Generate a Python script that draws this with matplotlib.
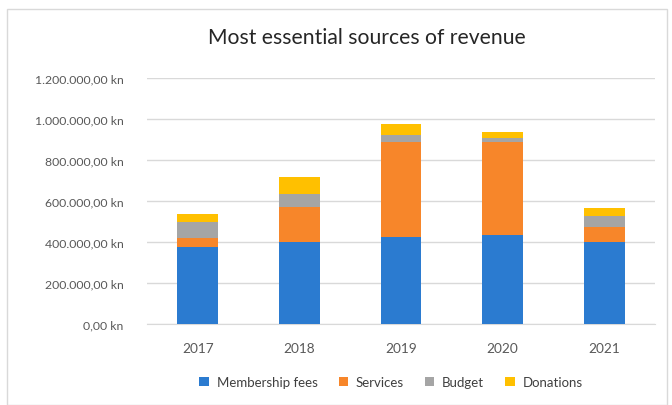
import matplotlib
matplotlib.use("Agg")
import matplotlib.pyplot as plt
from matplotlib.patches import Rectangle
from matplotlib.ticker import FuncFormatter

years = ["2017", "2018", "2019", "2020", "2021"]
membership = [377000, 398000, 423000, 436000, 402000]
services = [43000, 171000, 463000, 454000, 73000]
budget = [76000, 65000, 36000, 16000, 53000]
donations = [41000, 81000, 54000, 32000, 36000]

series_names = ["Membership fees", "Services", "Budget", "Donations"]
colors = ["#2B7BD0", "#F7862A", "#A5A5A5", "#FFC000"]

plt.rcParams['font.family'] = ['Lato', 'DejaVu Sans']

fig = plt.figure(figsize=(6.72, 4.06), dpi=100)
fig.patch.set_facecolor("white")
fig.patches.append(Rectangle((7/672, 0.0), 660/672, 396/406, transform=fig.transFigure,
                             fill=False, edgecolor="#D9D9D9", linewidth=1.0))

ax = fig.add_axes([147/672, 81/406, 508/672, 246/406])
x = list(range(len(years)))
bottom = [0] * len(years)
for vals, name, col in zip([membership, services, budget, donations], series_names, colors):
    ax.bar(x, vals, width=0.4, bottom=bottom, color=col, label=name, zorder=3)
    bottom = [b + v for b, v in zip(bottom, vals)]

ax.set_xlim(-0.5, 4.5)
ax.set_ylim(0, 1200000)
ax.set_yticks(range(0, 1200001, 200000))

def fmt(v, pos):
    s = f"{int(round(v)):,}".replace(",", ".")
    return s + ",00 kn"

ax.yaxis.set_major_formatter(FuncFormatter(fmt))
ax.set_xticks(x)
ax.set_xticklabels(years)
ax.grid(axis="y", color="#D9D9D9", linewidth=1.0, zorder=0)
for s in ["top", "right", "left"]:
    ax.spines[s].set_visible(False)
ax.spines["bottom"].set_color("#D9D9D9")
ax.tick_params(axis="both", length=0, colors="#595959")
ax.tick_params(axis="y", pad=17, labelsize=8.8)
ax.tick_params(axis="x", pad=13, labelsize=9.8)

fig.text(367/672, 1 - 38/406, "Most essential sources of revenue", ha="center", va="center",
         fontsize=15.2, color="#262626")

leg = fig.legend(loc="center", bbox_to_anchor=(391/672, 1 - 383/406), ncol=4, frameon=False,
                 fontsize=9.5, handlelength=0.7, handleheight=0.7, columnspacing=1.6,
                 handletextpad=0.6, labelcolor="#404040")

fig.savefig("out.png", dpi=100)
